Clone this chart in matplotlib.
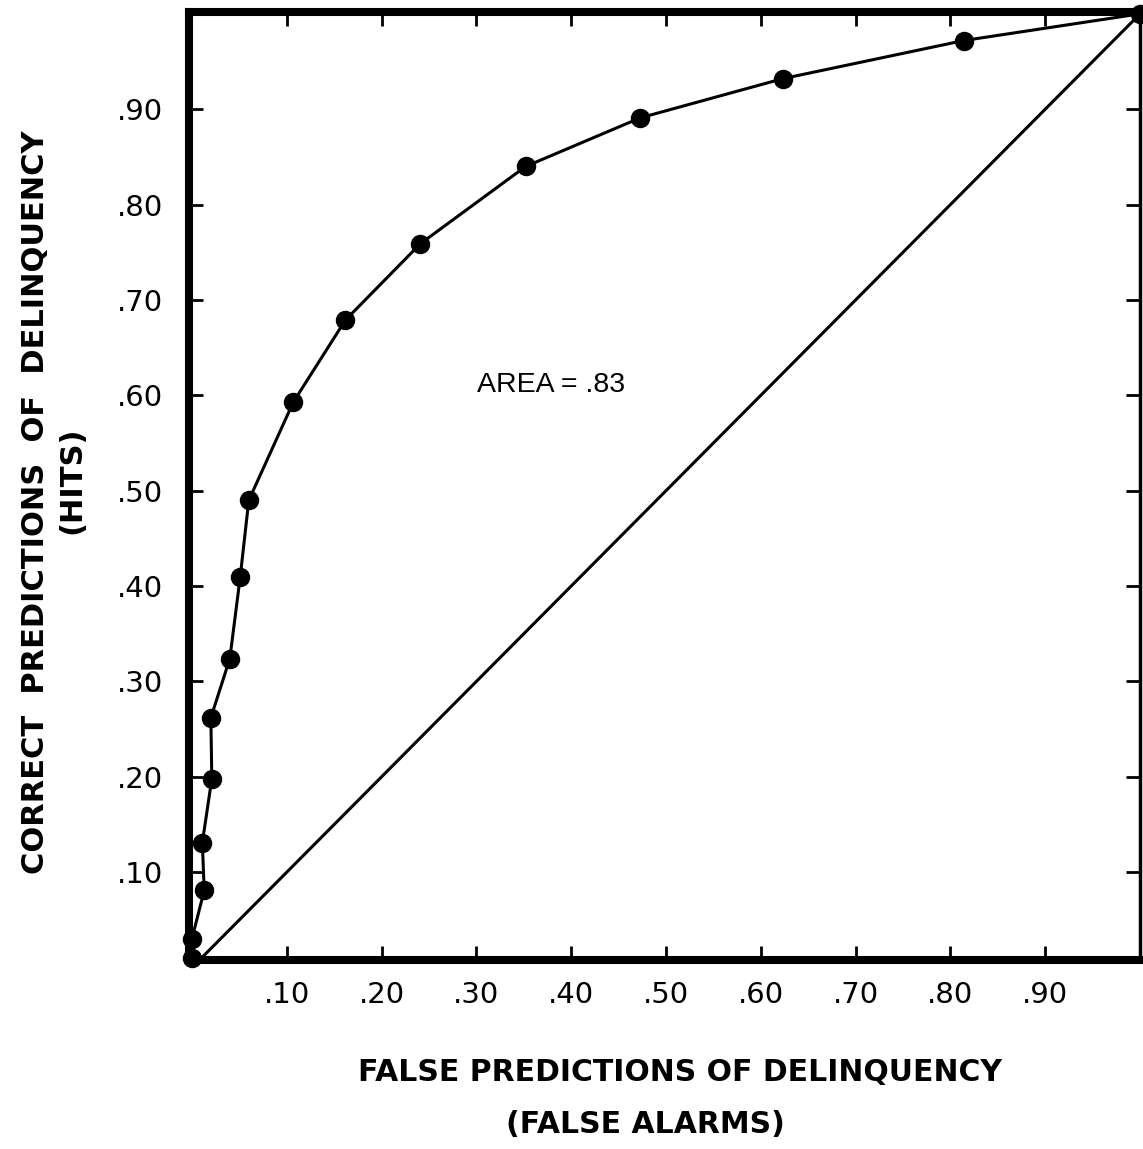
import matplotlib.pyplot as plt

# ROC curve points
false_alarms = [0.0, 0.0, 0.013, 0.011, 0.021, 0.020, 0.040, 0.051, 0.060,
                0.107, 0.162, 0.241, 0.352, 0.473, 0.623, 0.814, 1.0]
hits = [0.01, 0.03, 0.081, 0.131, 0.198, 0.262, 0.324, 0.41, 0.49,
        0.593, 0.679, 0.759, 0.84, 0.891, 0.932, 0.972, 1.0]

chance_x = [0.0, 1.0]
chance_y = [0.0, 1.0]

tick_vals = [0.1, 0.2, 0.3, 0.4, 0.5, 0.6, 0.7, 0.8, 0.9]
tick_labels = [".10", ".20", ".30", ".40", ".50", ".60", ".70", ".80", ".90"]

area_text = "AREA = .83"

fig = plt.figure(figsize=(11.43, 11.49), dpi=100)
ax = fig.add_axes([0.1654, 0.1645, 0.832, 0.8251])

ax.plot(chance_x, chance_y, color="black", lw=2.2)
ax.plot(false_alarms, hits, color="black", lw=2.2, marker="o", ms=13,
        clip_on=False, zorder=3)

ax.set_xlim(-0.003, 1.0)
ax.set_ylim(0.008, 1.002)

ax.set_xticks(tick_vals)
ax.set_xticklabels(tick_labels)
ax.set_yticks(tick_vals)
ax.set_yticklabels(tick_labels)
ax.tick_params(direction="in", length=10, width=2, labelsize=21,
               top=True, right=True, pad=15)
ax.tick_params(axis="y", pad=19)

for side in ["left", "bottom", "top"]:
    ax.spines[side].set_linewidth(5.8)
ax.spines["right"].set_linewidth(2.5)

ax.text(0.379, 0.611, area_text, ha="center", va="center", fontsize=20.5,
        family=["Liberation Sans", "DejaVu Sans"])

fig.text(0.595, 0.067, "FALSE PREDICTIONS OF DELINQUENCY", ha="center",
         va="center", fontsize=21.5, fontweight="bold")
fig.text(0.565, 0.021, "(FALSE ALARMS)", ha="center", va="center",
         fontsize=21.5, fontweight="bold")
fig.text(0.031, 0.563, "CORRECT  PREDICTIONS  OF  DELINQUENCY", ha="center",
         va="center", rotation=90, fontsize=22, fontweight="bold")
fig.text(0.063, 0.582, "(HITS)", ha="center", va="center", rotation=90,
         fontsize=22, fontweight="bold")

plt.savefig("out.png", dpi=100)
